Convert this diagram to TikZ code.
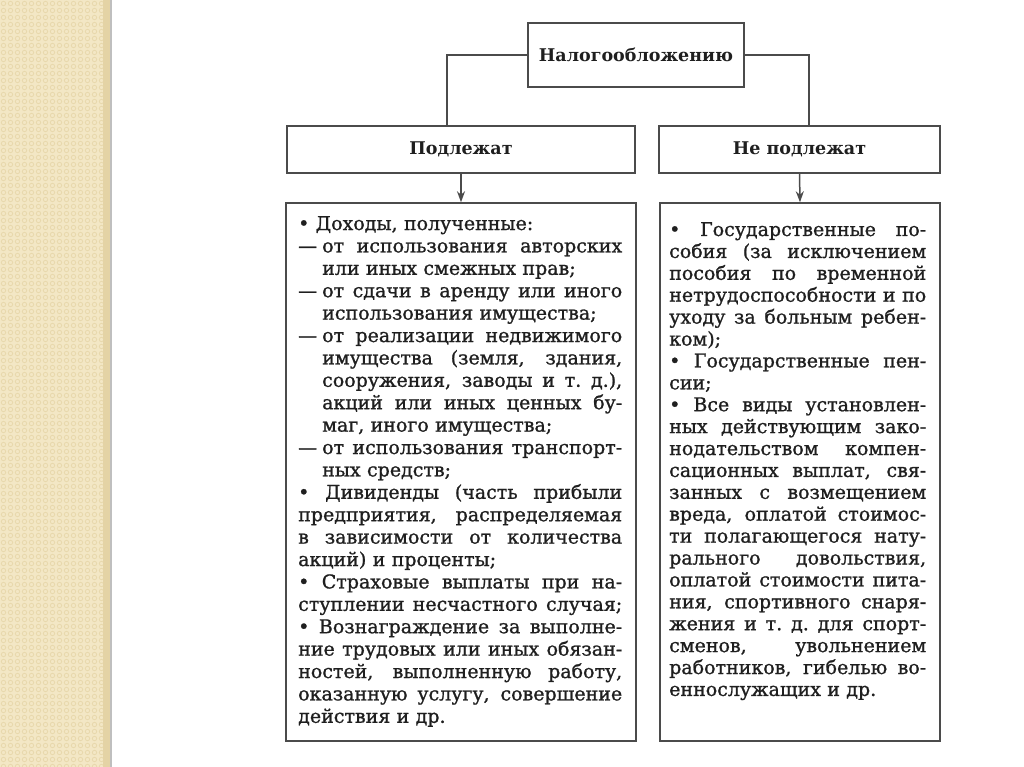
\documentclass[tikz,border=0pt]{standalone}
\usepackage{fontspec}
\setmainfont{DejaVu Serif}
\newfontface\bodyfont[FakeBold=1.1]{DejaVu Serif}
\usetikzlibrary{arrows.meta}
\definecolor{beigebg}{RGB}{243,231,197}
\definecolor{beigedot}{RGB}{232,216,172}
\definecolor{beigeedge}{RGB}{228,211,165}
\definecolor{boxline}{RGB}{75,75,75}
\newdimen\linew
\newcommand\jline[2][0pt]{\hbox to \linew{\spaceskip=.3em plus 1fil\xspaceskip=.3em plus 1fil\relax\hskip#1\relax #2}}
\newcommand\lline[2][0pt]{\hbox to \linew{\hskip#1\relax #2\hfil}}
\newcommand\dsh{\makebox[24pt][l]{—}}
\tikzset{
  frame/.style={draw=boxline, line width=1.5pt, inner sep=0pt, fill=white},
  head/.style={frame, font=\bfseries\fontsize{17.5}{20}\selectfont, text=black!88},
  body/.style={inner sep=0pt, anchor=base west, text=black!88},
  link/.style={draw=boxline, line width=1.5pt},
  arr/.style={link, -{Stealth[length=11pt,width=8pt]}}
}
\begin{document}
\begin{tikzpicture}[x=1pt,y=-1pt]
\useasboundingbox (0,0) rectangle (1024,767);
\fill[white] (0,0) rectangle (1024,767);
% decorative strip
\fill[beigebg] (0,0) rectangle (108,767);
\foreach \i in {0,...,14}{\foreach \j in {0,...,109}{
  \draw[beigedot, line width=0.8pt] (3.5+7*\i,3.5+7*\j) circle (2.2);}}
\fill[beigeedge] (103,0) rectangle (110,767);
\fill[black!25] (110,0) rectangle (112,767);
% boxes
\node[head, minimum width=216pt, minimum height=64pt] (nal) at (636,55) {Налогообложению};
\node[head, minimum width=348pt, minimum height=47pt] (pod) at (461,149.5) {Подлежат};
\node[head, minimum width=281pt, minimum height=47pt] (npod) at (799.5,149.5) {Не подлежат};
\node[frame, minimum width=350pt, minimum height=538pt] (lbox) at (461,472) {};
\node[frame, minimum width=280pt, minimum height=538pt] (rbox) at (800,472) {};
% connectors
\coordinate (lc) at (447,55);
\coordinate (rc) at (809,55);
\draw[link] (nal.west) -- (lc) -- (lc |- pod.north);
\draw[link] (nal.east) -- (rc) -- (rc |- npod.north);
\draw[arr] (pod.south) -- (lbox.north);
\draw[arr] (npod.south) -- (rbox.north);
% texts
\node[body, text width=324pt, font=\bodyfont\fontsize{19}{22.4}\selectfont] (ltext) at (298,230) {%
\linew=324pt\relax
\lline{• Доходы, полученные:}
\jline{\dsh от использования авторских}
\lline[24pt]{или иных смежных прав;}
\jline{\dsh от сдачи в аренду или иного}
\lline[24pt]{использования имущества;}
\jline{\dsh от реализации недвижимого}
\jline[24pt]{имущества (земля, здания,}
\jline[24pt]{сооружения, заводы и т.~д.),}
\jline[24pt]{акций или иных ценных бу-}
\lline[24pt]{маг, иного имущества;}
\jline{\dsh от использования транспорт-}
\lline[24pt]{ных средств;}
\jline{• Дивиденды (часть прибыли}
\jline{предприятия, распределяемая}
\jline{в зависимости от количества}
\lline{акций) и проценты;}
\jline{• Страховые выплаты при на-}
\jline{ступлении несчастного случая;}
\jline{• Вознаграждение за выполне-}
\jline{ние трудовых или иных обязан-}
\jline{ностей, выполненную работу,}
\jline{оказанную услугу, совершение}
\lline{действия и др.}};
\node[body, text width=257pt, font=\bodyfont\fontsize{19}{21.9}\selectfont] (rtext) at (669,236) {%
\linew=257pt\relax
\jline{• Государственные по-}
\jline{собия (за исключением}
\jline{пособия по временной}
\jline{нетрудоспособности и по}
\jline{уходу за больным ребен-}
\lline{ком);}
\jline{• Государственные пен-}
\lline{сии;}
\jline{• Все виды установлен-}
\jline{ных действующим зако-}
\jline{нодательством компен-}
\jline{сационных выплат, свя-}
\jline{занных с возмещением}
\jline{вреда, оплатой стоимос-}
\jline{ти полагающегося нату-}
\jline{рального довольствия,}
\jline{оплатой стоимости пита-}
\jline{ния, спортивного снаря-}
\jline{жения и т.~д. для спорт-}
\jline{сменов, увольнением}
\jline{работников, гибелью во-}
\lline{еннослужащих и др.}};
\end{tikzpicture}
\end{document}
